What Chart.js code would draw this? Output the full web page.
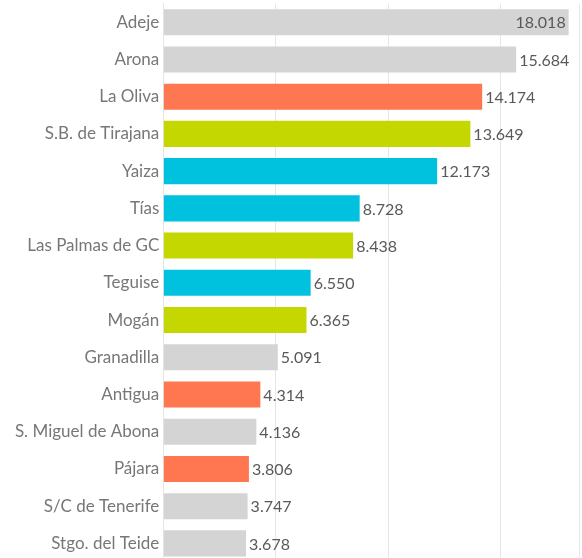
<!DOCTYPE html>
<html>
<head>
<meta charset="utf-8">
<script src="https://cdn.jsdelivr.net/npm/chart.js@4"></script>
<style>
html,body{margin:0;padding:0;background:#fff;overflow:hidden;}
#wrap{position:relative;width:582px;height:562px;}
</style>
</head>
<body>
<div id="wrap"><canvas id="c"></canvas></div>
<script>
const categories = ["Adeje","Arona","La Oliva","S.B. de Tirajana","Yaiza","Tías","Las Palmas de GC","Teguise","Mogán","Granadilla","Antigua","S. Miguel de Abona","Pájara","S/C de Tenerife","Stgo. del Teide"];
const values = [18.018,15.684,14.174,13.649,12.173,8.728,8.438,6.550,6.365,5.091,4.314,4.136,3.806,3.747,3.678];
const valueLabels = ["18.018","15.684","14.174","13.649","12.173","8.728","8.438","6.550","6.365","5.091","4.314","4.136","3.806","3.747","3.678"];
const barColors = ["#d4d4d4","#d4d4d4","#ff7750","#c5d700","#00c2de","#00c2de","#c5d700","#00c2de","#c5d700","#d4d4d4","#ff7750","#d4d4d4","#ff7750","#d4d4d4","#d4d4d4"];

const labelPlugin = {
  id: 'valueLabels',
  afterDatasetsDraw(chart) {
    const ctx = chart.ctx;
    const meta = chart.getDatasetMeta(0);
    ctx.save();
    ctx.font = '16px Lato';
    ctx.fillStyle = '#595959';
    ctx.textBaseline = 'middle';
    meta.data.forEach((bar, i) => {
      const txt = valueLabels[i];
      const w = ctx.measureText(txt).width;
      if (bar.x + 4 + w > chart.width) {
        ctx.textAlign = 'right';
        ctx.fillText(txt, bar.x - 3, bar.y + 1);
      } else {
        ctx.textAlign = 'left';
        ctx.fillText(txt, bar.x + 3, bar.y + 1);
      }
    });
    ctx.restore();
  }
};

new Chart(document.getElementById('c'), {
  type: 'bar',
  data: {
    labels: categories,
    datasets: [{
      data: values,
      backgroundColor: barColors,
      borderWidth: 0,
      barPercentage: 0.7,
      categoryPercentage: 1
    }]
  },
  options: {
    indexAxis: 'y',
    responsive: true,
    maintainAspectRatio: false,
    animation: false,
    layout: { padding: { top: 3.6, right: 2.5, bottom: 0, left: 0 } },
    plugins: { legend: { display: false }, tooltip: { enabled: false } },
    scales: {
      x: {
        min: 0, max: 18.5,
        ticks: { display: false, stepSize: 5 },
        grid: { color: '#e6e6e6', drawTicks: false },
        border: { display: false },
        afterFit(scale) { scale.height = 0; scale.paddingLeft = 0; scale.paddingRight = 0; }
      },
      y: {
        afterFit(scale) { scale.width = 163.3; scale.paddingTop = 0; scale.paddingBottom = 0; },
        ticks: { color: '#777777', font: { family: 'Lato', size: 17 }, padding: 4 },
        grid: { display: false, drawTicks: false },
        border: { display: true, color: '#e6e6e6' }
      }
    }
  },
  plugins: [labelPlugin]
});
</script>
</body>
</html>
